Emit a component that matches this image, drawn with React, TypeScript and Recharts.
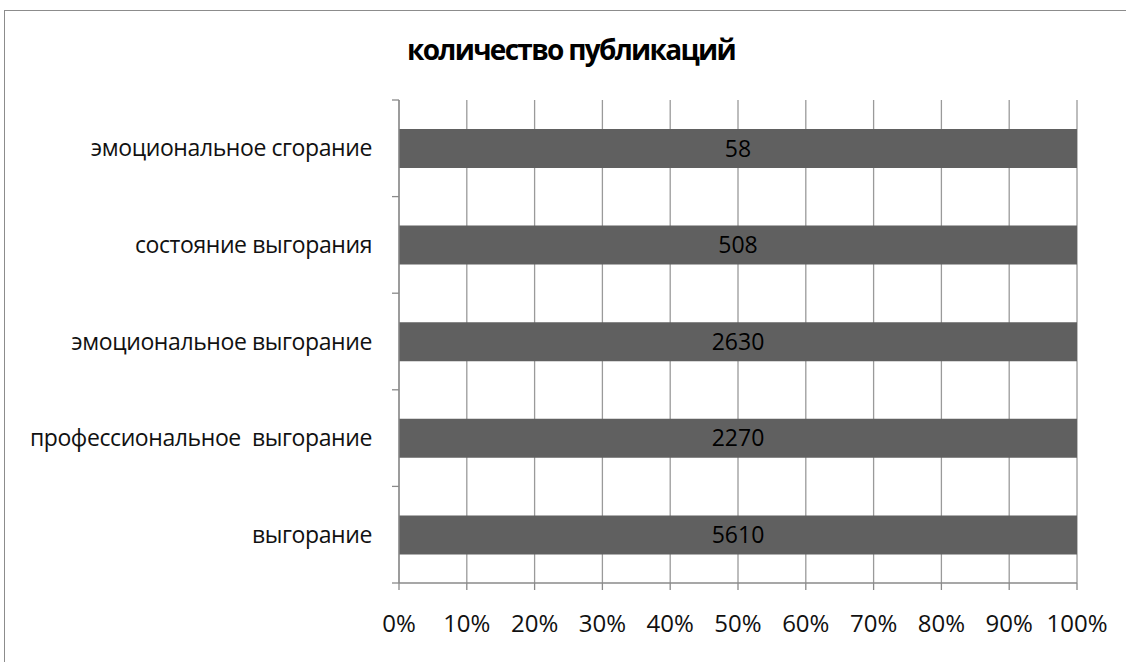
import React from 'react';
import { BarChart, Bar, XAxis, YAxis, CartesianGrid, LabelList } from 'recharts';

const categories = ['эмоциональное сгорание', 'состояние выгорания', 'эмоциональное выгорание', 'профессиональное  выгорание', 'выгорание'];
const publications = [58, 508, 2630, 2270, 5610];
const xTicks = [0, 0.1, 0.2, 0.3, 0.4, 0.5, 0.6, 0.7, 0.8, 0.9, 1];

const data = categories.map((name, i) => ({ name, value: publications[i] }));

const FONT = '"Open Sans", sans-serif';
const AXIS = '#8a8a8a';
const TICK_SIZE = 6;
const TICK_MARGIN = 21;
const MARK_LEN = 7;

function CategoryTick(props: any) {
  const { x, y, payload, index } = props;
  const axisX = x + TICK_SIZE + TICK_MARGIN;
  const half = payload && payload.offset ? payload.offset : 0;
  return (
    <g>
      {index === 0 && (
        <line x1={axisX - MARK_LEN} x2={axisX} y1={y - half} y2={y - half} stroke={AXIS} strokeWidth={1.3} />
      )}
      <line x1={axisX - MARK_LEN} x2={axisX} y1={y + half} y2={y + half} stroke={AXIS} strokeWidth={1.3} />
      <text
        x={x}
        y={y}
        dy="0.355em"
        textAnchor="end"
        fill="#111"
        fontSize={23}
        fontFamily={FONT}
        letterSpacing={-0.4}
        xmlSpace="preserve"
        style={{ whiteSpace: 'pre' }}
      >
        {payload.value}
      </text>
    </g>
  );
}

export default function App() {
  return (
    <div style={{ position: 'absolute', left: 0, top: 0, width: 1126, height: 662, background: '#fff', overflow: 'hidden' }}>
      <div style={{ position: 'absolute', left: 4, top: 10, width: 1140, height: 700, border: '1px solid #8c8c8c', boxSizing: 'border-box' }} />
      <div style={{ position: 'absolute', left: 0, width: 1142, top: 30, textAlign: 'center', fontFamily: FONT, fontWeight: 700, fontSize: 28, letterSpacing: -1.7, color: '#000', whiteSpace: 'nowrap' }}>
        количество публикаций
      </div>
      <div style={{ position: 'absolute', left: 0, top: 0 }}>
        <BarChart
          width={1126}
          height={662}
          data={data}
          layout="vertical"
          stackOffset="expand"
          margin={{ top: 100, right: 49, bottom: 19, left: 0 }}
          barSize={39}
        >
          <CartesianGrid horizontal={false} vertical={true} stroke="#9a9a9a" strokeWidth={1.3} />
          <XAxis
            type="number"
            domain={[0, 1]}
            ticks={xTicks}
            height={60}
            tickFormatter={(v: number) => `${Math.round(v * 100)}%`}
            stroke={AXIS}
            strokeWidth={1.3}
            tickSize={7}
            tickMargin={25}
            tick={{ fill: '#111', fontSize: 24, fontFamily: FONT }}
          />
          <YAxis
            type="category"
            dataKey="name"
            width={399}
            tickLine={false}
            tickSize={TICK_SIZE}
            tickMargin={TICK_MARGIN}
            stroke={AXIS}
            strokeWidth={1.3}
            interval={0}
            tick={<CategoryTick />}
          />
          <Bar dataKey="value" stackId="a" fill="#606060" isAnimationActive={false}>
            <LabelList dataKey="value" position="center" fill="#000" fontSize={23} fontFamily={FONT} />
          </Bar>
        </BarChart>
      </div>
    </div>
  );
}
